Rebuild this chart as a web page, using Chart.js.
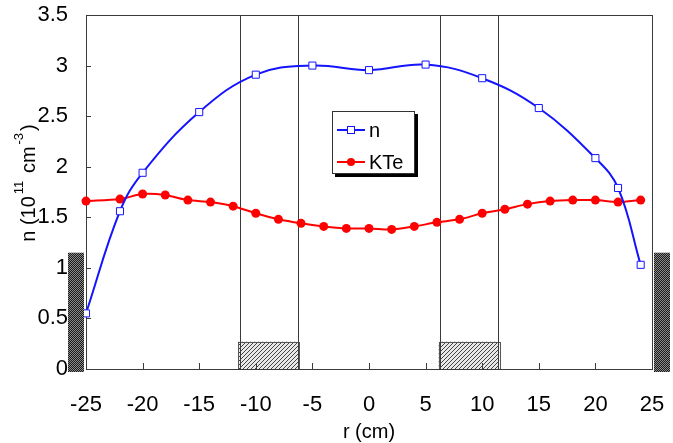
<!DOCTYPE html>
<html><head><meta charset="utf-8">
<script src="https://cdn.jsdelivr.net/npm/chart.js@4.4.0/dist/chart.umd.min.js"></script>
<style>html,body{margin:0;padding:0;background:#fff;}</style>
</head><body>
<canvas id="c" width="673" height="443" style="width:673px;height:443px;display:block"></canvas>
<script>
// ---- data ----
const rN = [-25, -22, -20, -15, -10, -5, 0, 5, 10, 15, 20, 22, 24];
const nVals = [0.55, 1.56, 1.94, 2.54, 2.91, 3.00, 2.955, 3.01, 2.875, 2.58, 2.085, 1.79, 1.03];
const rKTe = [-25, -22, -20, -18, -16, -14, -12, -10, -8, -6, -4, -2, 0, 2, 4, 6, 8, 10, 12, 14, 16, 18, 20, 22, 24];
const kteVals = [1.66, 1.68, 1.73, 1.72, 1.67, 1.65, 1.61, 1.54, 1.48, 1.44, 1.41, 1.39, 1.39, 1.38, 1.41, 1.45, 1.48, 1.54, 1.58, 1.63, 1.66, 1.67, 1.67, 1.65, 1.67];
const xTicks = [-25, -20, -15, -10, -5, 0, 5, 10, 15, 20, 25];
const yTicks = [0, 0.5, 1, 1.5, 2, 2.5, 3, 3.5];
const seriesLabels = ['n', 'KTe'];
const limiterLines = [-11.4, -6.3, 6.3, 11.4];
const hatchBoxes = [[-11.55, -6.2], [6.15, 11.5]];
const hatchTop = 0.27;
const wallTop = 1.15;
const xTitle = 'r (cm)';
const yTitleParts = [['n (10', false], ['11', true], [' cm', false], ['-3', true], [')', false]];

const FONT = '"Liberation Sans", Arial, sans-serif';
const BLUE = '#1414ff', RED = '#ff0000', AXIS = '#3a3a3a';

function makeHatch(ctx) {
  const p = document.createElement('canvas'); p.width = 4; p.height = 4;
  const g = p.getContext('2d');
  g.fillStyle = '#e8e8e8'; g.fillRect(0, 0, 4, 4);
  g.strokeStyle = '#444'; g.lineWidth = 1;
  g.beginPath(); g.moveTo(0, 4); g.lineTo(4, 0); g.moveTo(-1, 1); g.lineTo(1, -1); g.moveTo(3, 5); g.lineTo(5, 3); g.stroke();
  return ctx.createPattern(p, 'repeat');
}
function makeChecker(ctx) {
  const p = document.createElement('canvas'); p.width = 2; p.height = 2;
  const g = p.getContext('2d');
  g.fillStyle = '#1a1a1a'; g.fillRect(0, 0, 2, 2);
  g.fillStyle = '#8a8a8a'; g.fillRect(0, 0, 1, 1); g.fillRect(1, 1, 1, 1);
  return ctx.createPattern(p, 'repeat');
}

const decor = {
  id: 'decor',
  beforeDatasetsDraw(chart) {
    const { ctx, chartArea: a, scales: { x, y } } = chart;
    ctx.save();
    const hp = makeHatch(ctx);
    hatchBoxes.forEach(([x0, x1]) => {
      const px0 = x.getPixelForValue(x0), px1 = x.getPixelForValue(x1);
      const py0 = y.getPixelForValue(hatchTop), py1 = y.getPixelForValue(0);
      ctx.fillStyle = hp; ctx.fillRect(px0, py0, px1 - px0, py1 - py0);
      ctx.strokeStyle = '#555'; ctx.lineWidth = 1;
      ctx.strokeRect(Math.round(px0) + 0.5, Math.round(py0) + 0.5, Math.round(px1 - px0), Math.round(py1 - py0));
    });
    ctx.strokeStyle = AXIS; ctx.lineWidth = 1;
    limiterLines.forEach(v => {
      const px = Math.round(x.getPixelForValue(v)) + 0.5;
      ctx.beginPath(); ctx.moveTo(px, a.top); ctx.lineTo(px, a.bottom); ctx.stroke();
    });
    ctx.strokeRect(Math.round(a.left) + 0.5, Math.round(a.top) + 0.5, Math.round(a.right - a.left), Math.round(a.bottom - a.top));
    ctx.beginPath();
    yTicks.slice(1, -1).forEach(v => {
      const py = Math.round(y.getPixelForValue(v)) + 0.5;
      ctx.moveTo(a.left, py); ctx.lineTo(a.left + 5, py);
    });
    xTicks.slice(1, -1).forEach(v => {
      const px = Math.round(x.getPixelForValue(v)) + 0.5;
      ctx.moveTo(px, a.bottom); ctx.lineTo(px, a.bottom - 6);
    });
    ctx.stroke();
    ctx.restore();
  },
  afterDraw(chart) {
    const { ctx, chartArea: a, scales: { x, y } } = chart;
    ctx.save();
    const cp = makeChecker(ctx);
    const wy0 = y.getPixelForValue(wallTop), wy1 = y.getPixelForValue(0) + 3;
    ctx.fillStyle = cp;
    ctx.fillRect(a.left - 18, wy0, 16, wy1 - wy0);
    ctx.fillRect(a.right + 2, wy0, 16, wy1 - wy0);
    // legend
    const lx = 332, ly = 111, lw = 82, lh = 62;
    ctx.fillStyle = '#000'; ctx.fillRect(lx + 3, ly + 3, lw + 1, lh + 1);
    ctx.fillStyle = '#fff'; ctx.fillRect(lx, ly, lw, lh);
    ctx.strokeStyle = '#333'; ctx.lineWidth = 1; ctx.strokeRect(lx + 0.5, ly + 0.5, lw, lh);
    const rows = [ly + 19, ly + 51];
    chart.data.datasets.forEach((ds, i) => {
      const ry = rows[i];
      ctx.strokeStyle = ds.borderColor; ctx.lineWidth = 2;
      ctx.beginPath(); ctx.moveTo(lx + 5, ry); ctx.lineTo(lx + 33, ry); ctx.stroke();
      const cx = lx + 19;
      if (ds.pointStyle === 'rect') {
        ctx.fillStyle = '#fff'; ctx.fillRect(cx - 3.5, ry - 3.5, 7, 7);
        ctx.strokeStyle = ds.pointBorderColor; ctx.lineWidth = 1; ctx.strokeRect(cx - 3.5, ry - 3.5, 7, 7);
      } else {
        ctx.fillStyle = ds.pointBackgroundColor; ctx.beginPath(); ctx.arc(cx, ry, 4, 0, Math.PI * 2); ctx.fill();
      }
      ctx.fillStyle = '#000'; ctx.font = '20px ' + FONT; ctx.textBaseline = 'middle'; ctx.textAlign = 'left';
      ctx.fillText(ds.label, lx + 37, ry + 1);
    });
    // y title with superscripts
    ctx.translate(35, 182); ctx.rotate(-Math.PI / 2);
    const big = '20px ' + FONT, small = '13px ' + FONT;
    const gap = 2;
    let total = 0;
    yTitleParts.forEach(([t, sup]) => { ctx.font = sup ? small : big; total += ctx.measureText(t).width + gap; });
    let cx = -total / 2;
    ctx.fillStyle = '#000'; ctx.textAlign = 'left'; ctx.textBaseline = 'alphabetic';
    yTitleParts.forEach(([t, sup]) => {
      ctx.font = sup ? small : big;
      ctx.fillText(t, cx, sup ? -12 : 0);
      cx += ctx.measureText(t).width + gap;
    });
    ctx.restore();
  }
};

new Chart(document.getElementById('c'), {
  type: 'line',
  data: {
    datasets: [
      {
        label: seriesLabels[0],
        data: rN.map((r, i) => ({ x: r, y: nVals[i] })),
        borderColor: BLUE, borderWidth: 2, tension: 0.4,
        pointStyle: 'rect', pointRadius: 5, pointBorderWidth: 1,
        pointBackgroundColor: '#fff', pointBorderColor: BLUE, clip: false
      },
      {
        label: seriesLabels[1],
        data: rKTe.map((r, i) => ({ x: r, y: kteVals[i] })),
        borderColor: RED, borderWidth: 2, tension: 0.3,
        pointStyle: 'circle', pointRadius: 4.5, pointBorderWidth: 0,
        pointBackgroundColor: RED, pointBorderColor: RED, clip: false
      }
    ]
  },
  options: {
    responsive: false, animation: false, devicePixelRatio: 1,
    layout: { padding: { left: 0, top: 15, right: 21, bottom: 0 } },
    plugins: { legend: { display: false }, tooltip: { enabled: false } },
    scales: {
      x: {
        type: 'linear', min: -25, max: 25,
        afterBuildTicks: s => { s.ticks = xTicks.map(v => ({ value: v })); },
        afterFit: s => { s.height = 74; s.paddingLeft = 0; s.paddingRight = 0; },
        grid: { display: false, drawTicks: false },
        border: { display: false },
        ticks: { font: { size: 22, family: FONT }, color: '#000', padding: 23, maxRotation: 0, autoSkip: false, callback: v => String(v) },
        title: { display: true, text: xTitle, font: { size: 20, family: FONT }, color: '#000', padding: { top: 0, bottom: -1 } }
      },
      y: {
        min: 0, max: 3.5,
        afterBuildTicks: s => { s.ticks = yTicks.map(v => ({ value: v })); },
        afterFit: s => { s.width = 86; s.paddingTop = 0; s.paddingBottom = 0; },
        grid: { display: false, drawTicks: false },
        border: { display: false },
        ticks: { font: { size: 22, family: FONT }, color: '#000', padding: 18, autoSkip: false, callback: v => String(v) }
      }
    }
  },
  plugins: [decor]
});
</script>
</body></html>
